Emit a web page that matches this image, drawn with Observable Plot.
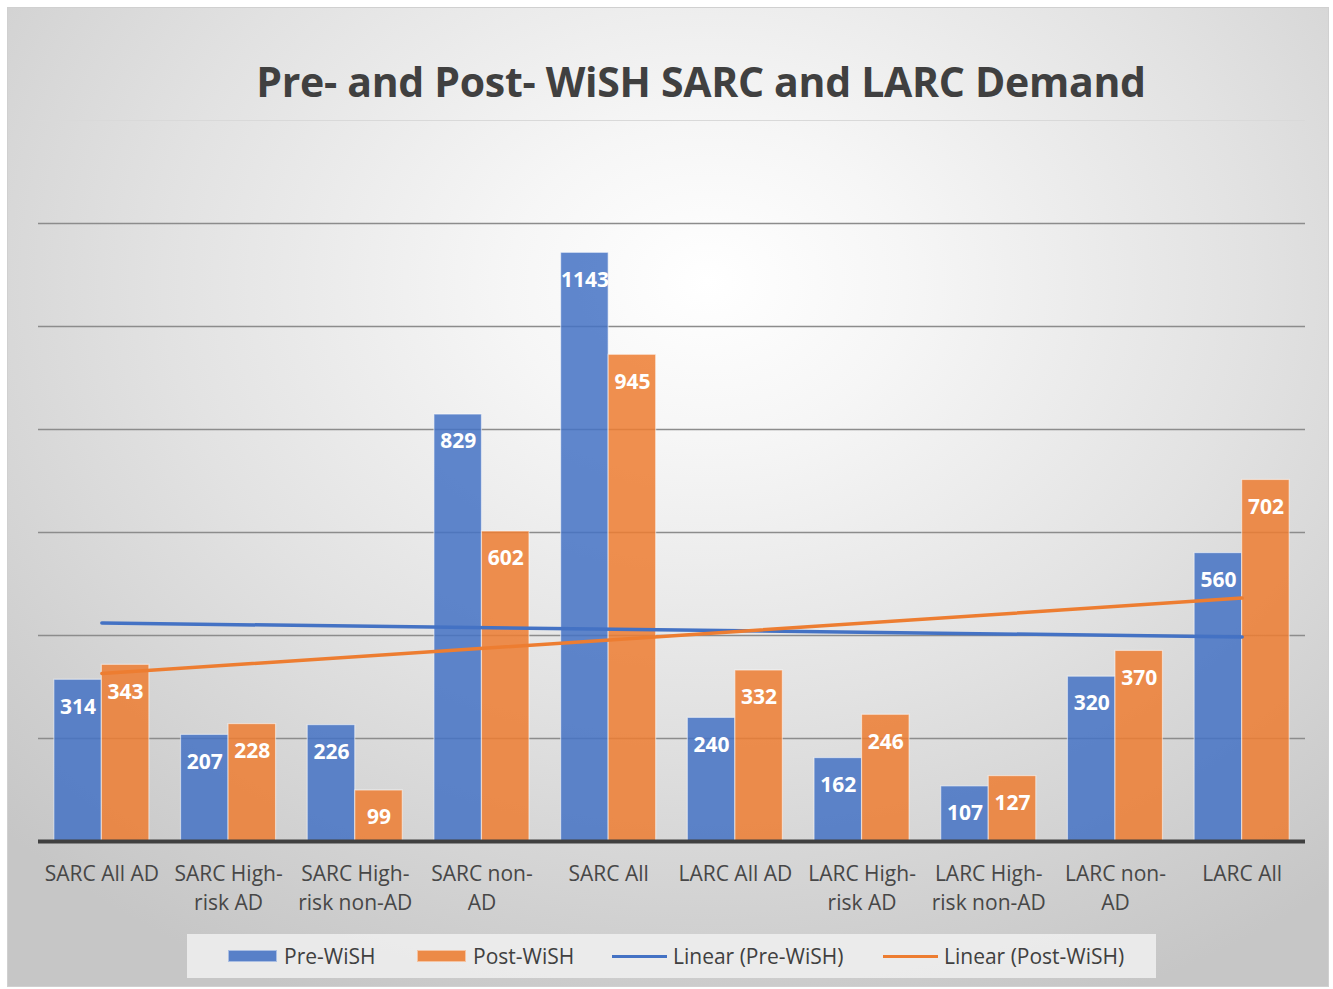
<!DOCTYPE html>
<html>
<head>
<meta charset="utf-8">
<script src="https://cdn.jsdelivr.net/npm/d3@7"></script>
<script src="https://cdn.jsdelivr.net/npm/@observablehq/plot@0.6"></script>
<style>
  html, body { margin: 0; padding: 0; background: #ffffff; }
  #wrap { position: relative; width: 1333px; height: 989px; overflow: hidden; font-family: "Open Sans", "Noto Sans", sans-serif; }
  #frame { position: absolute; left: 7px; top: 7px; width: 1322px; height: 980px; box-sizing: border-box;
    border: 1px solid #d0d0d0;
    background: radial-gradient(ellipse 75% 80% at 53% 28%, #ffffff 0%, #f6f6f6 20%, #e2e2e2 55%, #cfcfcf 85%, #c6c6c6 100%); }
  #title { position: absolute; left: 0; width: 1402px; top: 53px; text-align: center; font-size: 41px; font-weight: 700; color: #404040; letter-spacing: -0.3px; }
  #chart { position: absolute; left: 0; top: 0; }
  #legend { position: absolute; left: 187px; top: 934px; width: 969px; height: 44px; background: rgba(240,240,240,0.85); }
  .li { position: absolute; top: 0; height: 44px; display: flex; align-items: center; font-size: 21px; color: #404040; white-space: nowrap; }
  .sw { display: inline-block; width: 49px; height: 12px; margin-right: 7px; box-sizing: border-box; }
  .ln { display: inline-block; width: 55px; height: 3px; margin-right: 6px; }
</style>
</head>
<body>
<div id="wrap">
  <div id="frame"></div>
  <div id="title">Pre- and Post- WiSH SARC and LARC Demand</div>
  <div id="chart"></div>
  <div id="legend"></div>
</div>
<script>
const categories = ["SARC All AD", "SARC High-\nrisk AD", "SARC High-\nrisk non-AD", "SARC non-\nAD", "SARC All",
  "LARC All AD", "LARC High-\nrisk AD", "LARC High-\nrisk non-AD", "LARC non-\nAD", "LARC All"];
const preWiSH = [314, 207, 226, 829, 1143, 240, 162, 107, 320, 560];
const postWiSH = [343, 228, 99, 602, 945, 332, 246, 127, 370, 702];
const gridTicks = [200, 400, 600, 800, 1000, 1200];
const seriesNames = ["Pre-WiSH", "Post-WiSH", "Linear (Pre-WiSH)", "Linear (Post-WiSH)"];

const BLUE = "#4472C4", ORANGE = "#ED7D31";
const rows = categories.map((c, k) => ({i: k + 1, cat: c, pre: preWiSH[k], post: postWiSH[k]}));
const half = 0.375;

const chart = Plot.plot({
  width: 1333,
  height: 989,
  marginTop: 120,
  marginBottom: 148,
  marginLeft: 38,
  marginRight: 28,
  style: {background: "transparent", fontFamily: "'Open Sans', 'Noto Sans', sans-serif"},
  x: {domain: [0.5, 10.5], axis: null},
  y: {domain: [0, 1400], axis: null},
  marks: [
    Plot.ruleY([1400], {stroke: "#d9d9d9", strokeWidth: 1}),
    Plot.ruleY(gridTicks, {stroke: "#8c8c8c", strokeWidth: 1.5}),
    Plot.rectY(rows, {x1: d => d.i - half, x2: d => d.i, y: "pre", fill: BLUE, fillOpacity: 0.85, stroke: "#ffffff", strokeOpacity: 0.5, strokeWidth: 1.2}),
    Plot.rectY(rows, {x1: d => d.i, x2: d => d.i + half, y: "post", fill: ORANGE, fillOpacity: 0.85, stroke: "#ffffff", strokeOpacity: 0.5, strokeWidth: 1.2}),
    Plot.ruleY([0], {stroke: "#404040", strokeWidth: 4}),
    Plot.linearRegressionY(rows, {x: "i", y: "pre", stroke: BLUE, strokeWidth: 3.5, ci: 0}),
    Plot.linearRegressionY(rows, {x: "i", y: "post", stroke: ORANGE, strokeWidth: 3.5, ci: 0}),
    Plot.text(rows, {x: d => d.i - half / 2, y: "pre", text: d => String(d.pre), dy: 27, fill: "#ffffff", fontSize: 21, fontWeight: 700}),
    Plot.text(rows, {x: d => d.i + half / 2, y: "post", text: d => String(d.post), dy: 27, fill: "#ffffff", fontSize: 21, fontWeight: 700}),
    Plot.text(rows, {x: "i", y: () => 0, text: "cat", dy: 19, lineAnchor: "top", lineHeight: 1.38, fill: "#474747", fontSize: 21})
  ]
});
document.getElementById("chart").appendChild(chart);

const legend = document.getElementById("legend");
const items = [
  {left: 41, kind: "sw", color: BLUE},
  {left: 230, kind: "sw", color: ORANGE},
  {left: 425, kind: "ln", color: BLUE},
  {left: 696, kind: "ln", color: ORANGE}
];
items.forEach((it, k) => {
  const d = document.createElement("div");
  d.className = "li";
  d.style.left = it.left + "px";
  const s = document.createElement("span");
  s.className = it.kind;
  s.style.background = it.color;
  if (it.kind === "sw") { s.style.opacity = 0.88; s.style.border = "1px solid rgba(255,255,255,0.5)"; }
  d.appendChild(s);
  const t = document.createElement("span");
  t.textContent = seriesNames[k];
  d.appendChild(t);
  legend.appendChild(d);
});
</script>
</body>
</html>
